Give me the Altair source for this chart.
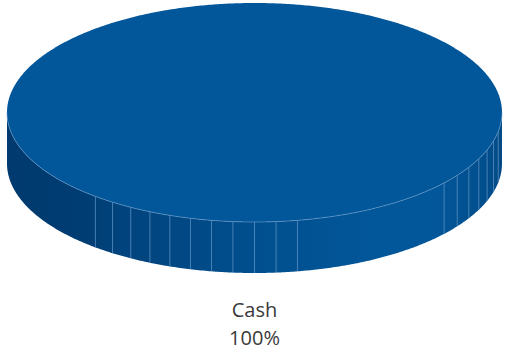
import altair as alt
import pandas as pd

# ---- data ----
categories = ["Cash"]
values = [100]
pct_labels = ["100%"]

slices = pd.DataFrame({"category": categories, "value": values, "pct": pct_labels})

# ---- layout / style constants (pixel space) ----
CX, CY, A, B, D = 254.5, 112.5, 247.5, 109.5, 51
TOP = "#02569A"
SEAM = "#5a8fc0"

SX = alt.Scale(domain=[0, 508], nice=False, zero=False)
SY = alt.Scale(domain=[352, 0], nice=False, zero=False)
X = alt.X("x:Q", scale=SX, axis=None)

base = alt.Chart(slices).transform_joinaggregate(total="sum(value)").transform_calculate(
    share="datum.value / datum.total"
)

# half-turn angles (degrees) used to trace the front/back of the disc
half = base.transform_calculate(t="sequence(0, 180 * datum.share + 0.25, 0.5)").transform_flatten(
    ["t"]
).transform_calculate(
    x=f"{CX} + {A} * cos(datum.t * PI / 180)",
    yf=f"{CY} + {B} * sin(datum.t * PI / 180)",
    yb=f"{CY} - {B} * sin(datum.t * PI / 180)",
    ys=f"{CY} + {B} * sin(datum.t * PI / 180) + {D}",
)

side_gradient = alt.Gradient(
    gradient="linear",
    x1=0, x2=1, y1=0, y2=0,
    stops=[
        alt.GradientStop(offset=0.0, color="#003A6E"),
        alt.GradientStop(offset=0.16, color="#003D73"),
        alt.GradientStop(offset=0.23, color="#01437D"),
        alt.GradientStop(offset=0.5, color="#014F8E"),
        alt.GradientStop(offset=0.75, color="#02579A"),
        alt.GradientStop(offset=0.86, color="#02579A"),
        alt.GradientStop(offset=0.94, color="#015090"),
        alt.GradientStop(offset=1.0, color="#014A86"),
    ],
)

side = half.mark_area(color=side_gradient, interpolate="linear").encode(
    x=X, y=alt.Y("yf:Q", scale=SY, axis=None), y2="ys:Q"
)

seams = base.transform_calculate(t="sequence(5, 180, 5)").transform_flatten(["t"]).transform_filter(
    "(datum.t >= 78 && datum.t <= 132) || (datum.t >= 8 && datum.t <= 42)"
).transform_calculate(
    x=f"{CX} + {A} * cos(datum.t * PI / 180)",
    y=f"{CY} + {B} * sin(datum.t * PI / 180)",
    y2=f"{CY} + {B} * sin(datum.t * PI / 180) + {D}",
).mark_rule(color=SEAM, strokeWidth=1, opacity=0.8).encode(
    x=X, y=alt.Y("y:Q", scale=SY, axis=None), y2="y2:Q"
)

top = half.mark_area(color=TOP, interpolate="linear").encode(
    x=X, y=alt.Y("yb:Q", scale=SY, axis=None), y2="yf:Q"
)

edge = half.mark_line(color="#6a9acb", strokeWidth=0.8, opacity=0.8).encode(
    x=X, y=alt.Y("yf:Q", scale=SY, axis=None)
)

label_cat = base.mark_text(
    font="Open Sans", fontSize=20, color="#3a3a3a", align="center", baseline="alphabetic"
).encode(x=alt.value(CX), y=alt.value(317), text="category:N")

label_pct = base.mark_text(
    font="Open Sans", fontSize=20, color="#3a3a3a", align="center", baseline="alphabetic"
).encode(x=alt.value(CX), y=alt.value(345), text="pct:N")

chart = alt.layer(side, seams, top, edge, label_cat, label_pct).properties(
    width=508, height=352, padding=0, background="white",
    autosize=alt.AutoSizeParams(type="none"),
).configure_view(stroke=None)

chart.save("out.html", embed_options={"renderer": "svg", "actions": False})
